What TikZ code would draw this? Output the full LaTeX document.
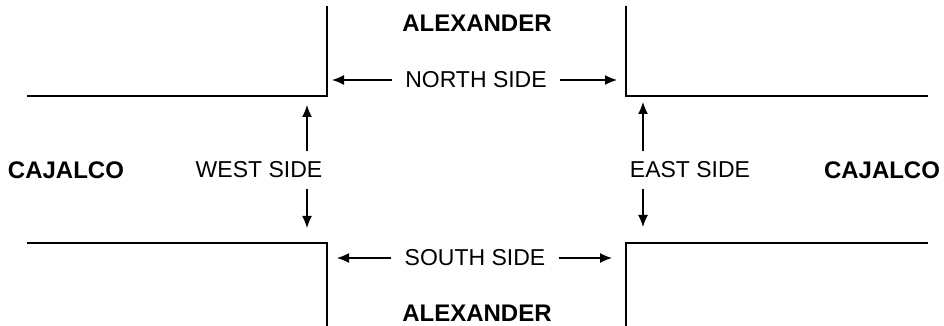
\documentclass[tikz,border=0pt]{standalone}
\usepackage{fontspec}
\setmainfont{Liberation Sans}
\usetikzlibrary{arrows.meta, positioning}

\begin{document}
\begin{tikzpicture}[
    x=0.5pt, y=-0.5pt,
    rua/.style={draw, line width=1pt, line cap=rect},
    lado/.style={font=\fontsize{11.5}{13}\selectfont, inner xsep=6.5pt, inner ysep=5pt},
    nome/.style={font=\fontsize{12}{14}\selectfont\bfseries, inner sep=0pt},
    seta/.style={draw, line width=0.65pt, -{Latex[length=6pt, width=5pt]}}
]
    \useasboundingbox (0,0) rectangle (944,326);

    % esquinas
    \coordinate (cNO) at (327,96);
    \coordinate (cNE) at (626,96);
    \coordinate (cSO) at (327,243);
    \coordinate (cSE) at (626,243);

    \draw[rua] (327,7) -- (cNO) -- (28,96);
    \draw[rua] (626,7) -- (cNE) -- (927,96);
    \draw[rua] (28,243) -- (cSO) -- (327,326);
    \draw[rua] (927,243) -- (cSE) -- (626,326);

    % nomes das ruas
    \node[nome] (alexN) at (477,23)  {ALEXANDER};
    \node[nome] (alexS) at (477,313) {ALEXANDER};
    \node[nome] (cajO)  at (66,170)  {CAJALCO};
    \node[nome] (cajL)  at (882,170) {CAJALCO};

    % lados
    \node[lado] (norte) at (476,80)  {NORTH SIDE};
    \node[lado] (sul)   at (475,258) {SOUTH SIDE};
    \node[lado] (oeste) at (259,170) {WEST SIDE};
    \node[lado] (leste) at (690,170) {EAST SIDE};

    \coordinate (nEsq) at (332,80);
    \coordinate (nDir) at (617,80);
    \coordinate (sEsq) at (337,258);
    \coordinate (sDir) at (612,258);
    \coordinate (oCima)  at (307,105);
    \coordinate (oBaixo) at (307,228);
    \coordinate (lCima)  at (643,102);
    \coordinate (lBaixo) at (643,227);

    \draw[seta] (norte.west) -- (nEsq);
    \draw[seta] (norte.east) -- (nDir);
    \draw[seta] (sul.west) -- (sEsq);
    \draw[seta] (sul.east) -- (sDir);
    \draw[seta] (oeste.north -| oCima) -- (oCima);
    \draw[seta] (oeste.south -| oBaixo) -- (oBaixo);
    \draw[seta] (leste.north -| lCima) -- (lCima);
    \draw[seta] (leste.south -| lBaixo) -- (lBaixo);
\end{tikzpicture}
\end{document}
